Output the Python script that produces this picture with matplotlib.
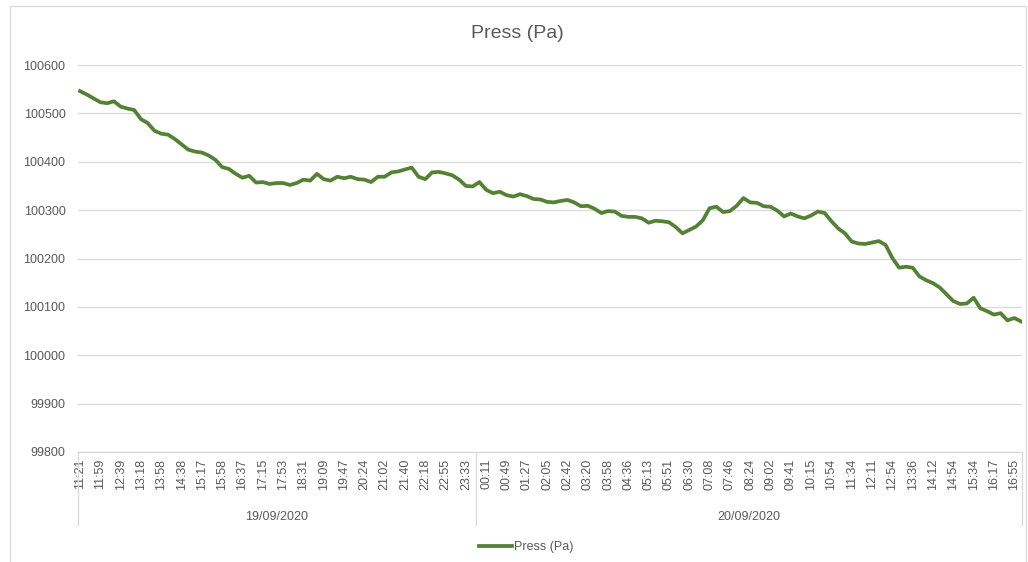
import matplotlib
matplotlib.use("Agg")
import matplotlib.pyplot as plt
import matplotlib.transforms as mtransforms
from matplotlib.patches import Rectangle

# readings of the pressure curve (Pa), evenly spaced, every 3rd one carries a time label
press = [100546, 100539, 100531, 100523, 100521, 100525, 100514, 100510, 100507, 100488,
         100480, 100464, 100458, 100456, 100447, 100436, 100425, 100421, 100419, 100413,
         100404, 100389, 100385, 100375, 100367, 100371, 100357, 100358, 100354, 100356,
         100356, 100352, 100356, 100363, 100361, 100375, 100364, 100361, 100369, 100366,
         100369, 100364, 100363, 100358, 100369, 100369, 100378, 100380, 100384, 100388,
         100369, 100364, 100378, 100379, 100376, 100372, 100363, 100350, 100349, 100358,
         100342, 100335, 100338, 100331, 100328, 100333, 100329, 100323, 100322, 100317,
         100316, 100319, 100321, 100316, 100308, 100309, 100303, 100294, 100298, 100297,
         100288, 100286, 100286, 100283, 100274, 100278, 100277, 100275, 100265, 100252,
         100259, 100266, 100279, 100304, 100307, 100296, 100298, 100309, 100325, 100316,
         100315, 100308, 100307, 100299, 100287, 100293, 100287, 100283, 100289, 100297,
         100294, 100277, 100262, 100252, 100235, 100231, 100230, 100233, 100236, 100228,
         100201, 100181, 100183, 100181, 100163, 100155, 100149, 100140, 100126, 100112,
         100106, 100107, 100119, 100097, 100091, 100084, 100087, 100072, 100077, 100070]

times_day1 = ["11:21", "11:59", "12:39", "13:18", "13:58", "14:38", "15:17", "15:58",
              "16:37", "17:15", "17:53", "18:31", "19:09", "19:47", "20:24", "21:02",
              "21:40", "22:18", "22:55", "23:33"]
times_day2 = ["00:11", "00:49", "01:27", "02:05", "02:42", "03:20", "03:58", "04:36",
              "05:13", "05:51", "06:30", "07:08", "07:46", "08:24", "09:02", "09:41",
              "10:15", "10:54", "11:34", "12:11", "12:54", "13:36", "14:12", "14:54",
              "15:34", "16:17", "16:55"]
dates = ["19/09/2020", "20/09/2020"]

step = 3          # one time label every 3 readings
n_day1 = 59       # readings on 19/09
grey = "#595959"
light = "#d9d9d9"
green = "#548235"

plt.rcParams["font.family"] = ["Liberation Sans", "DejaVu Sans"]

fig = plt.figure(figsize=(10.28, 5.62), dpi=100)
ax = fig.add_axes([78 / 1028, 1 - 452 / 562, (1022 - 78) / 1028, (452 - 65) / 562])

x = list(range(len(press)))
line, = ax.plot(x, press, color=green, lw=2.7, solid_joinstyle="round", label="Press (Pa)")

ax.set_ylim(99800, 100600)
ax.set_yticks(range(99800, 100601, 100))
ax.set_xlim(-0.3, len(press) - 1 + 0.15)

labels = times_day1 + times_day2
ax.set_xticks(range(0, len(labels) * step, step))
ax.set_xticklabels(labels, rotation=90)
ax.tick_params(axis="both", length=0, labelsize=9, labelcolor=grey)
ax.tick_params(axis="x", pad=5)
ax.tick_params(axis="y", pad=9)

ax.grid(axis="y", color=light, lw=0.9)
ax.set_axisbelow(True)
for s in ["top", "right", "left"]:
    ax.spines[s].set_visible(False)
ax.spines["bottom"].set_color(light)
ax.spines["bottom"].set_linewidth(0.9)

# date grouping under the time labels
trans = mtransforms.blended_transform_factory(ax.transData, ax.transAxes)
edges = [-0.3, n_day1 - 0.5, len(press) - 1 + 0.15]
for e in edges:
    ax.plot([e, e], [0, -0.189], color=light, lw=0.9, transform=trans, clip_on=False)
for i, d in enumerate(dates):
    ax.text((edges[i] + edges[i + 1]) / 2, -0.168, d, transform=trans,
            ha="center", va="center", fontsize=9, color=grey)

fig.text(517 / 1028, 1 - 33 / 562, "Press (Pa)", ha="center", va="center",
         fontsize=14, color=grey)

leg = fig.legend(handles=[line], loc="center", bbox_to_anchor=(0.512, 1 - 547 / 562),
                 frameon=False, fontsize=9, handlelength=2.6, handletextpad=0.2)
for t in leg.get_texts():
    t.set_color(grey)

fig.add_artist(Rectangle((10 / 1028, -0.01), (1026 - 10) / 1028, 1.01 - 6 / 562,
                         transform=fig.transFigure, fill=False, ec=light, lw=0.9))

fig.savefig("out.png", dpi=100, facecolor="white")
